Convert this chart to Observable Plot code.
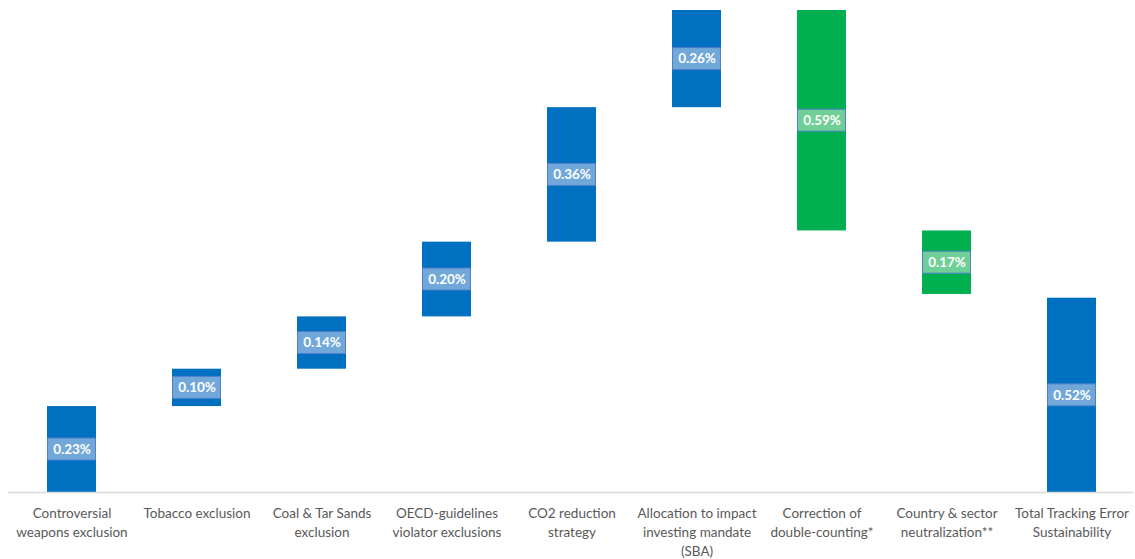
<!DOCTYPE html>
<html>
<head>
<meta charset="utf-8">
<script src="https://cdn.jsdelivr.net/npm/d3@7"></script>
<script src="https://cdn.jsdelivr.net/npm/@observablehq/plot@0.6"></script>
<style>
  html, body { margin: 0; padding: 0; background: #fff; }
  #chart svg { display: block; }
</style>
</head>
<body>
<div id="chart"></div>
<script>
const categories = [
  "Controversial\nweapons exclusion",
  "Tobacco exclusion",
  "Coal & Tar Sands\nexclusion",
  "OECD-guidelines\nviolator exclusions",
  "CO2 reduction\nstrategy",
  "Allocation to impact\ninvesting mandate\n(SBA)",
  "Correction of\ndouble-counting*",
  "Country & sector\nneutralization**",
  "Total Tracking Error\nSustainability"
];
const values = [0.23, 0.10, 0.14, 0.20, 0.36, 0.26, -0.59, -0.17, 0.52];
const kinds = ["up", "up", "up", "up", "up", "up", "down", "down", "total"];
const labels = ["0.23%", "0.10%", "0.14%", "0.20%", "0.36%", "0.26%", "0.59%", "0.17%", "0.52%"];

// Build waterfall table
let run = 0;
const data = categories.map((c, i) => {
  let y1, y2;
  if (kinds[i] === "total") { y1 = 0; y2 = values[i]; run = values[i]; }
  else { y1 = run; y2 = run + values[i]; run = y2; }
  return { cat: c, y1, y2, mid: (y1 + y2) / 2, kind: kinds[i], label: labels[i] };
});

const W = 1135, H = 559, mT = 10, mB = 67;
const yMax = d3.max(data, d => Math.max(d.y1, d.y2));
const pxPerUnit = (H - mT - mB) / yMax;
const half = 11 / pxPerUnit;

const fillOf = k => k === "down" ? "#00b050" : "#0070c0";
const boxOf = k => k === "down" ? "#6fcf96" : "#71a8d9";

const chart = Plot.plot({
  width: W,
  height: H,
  marginTop: mT,
  marginBottom: mB,
  marginLeft: 8,
  marginRight: 1,
  style: { fontFamily: "Lato, 'Open Sans', sans-serif", background: "#fff" },
  x: { domain: categories, paddingInner: 0.61, paddingOuter: 0.305, label: null },
  y: { domain: [0, yMax], axis: null },
  marks: [
    Plot.barY(data, { x: "cat", y1: "y1", y2: "y2", fill: d => fillOf(d.kind) }),
    Plot.ruleY([0], { stroke: "#d9d9d9", strokeWidth: 1.5 }),
    Plot.barY(data, {
      x: "cat",
      y1: d => d.mid - half,
      y2: d => d.mid + half,
      fill: d => boxOf(d.kind),
      stroke: "#4f7fc8",
      strokeWidth: 1,
      insetLeft: 0.5, insetRight: 0.5
    }),
    Plot.text(data, {
      x: "cat", y: "mid", text: "label",
      fill: "#ffffff", fontSize: 13.5, fontWeight: "bold"
    }),
    Plot.axisX({
      tickSize: 0, tickPadding: 12, fontSize: 13.5, lineHeight: 1.4,
      fill: "#595959", label: null
    })
  ]
});
document.getElementById("chart").appendChild(chart);
</script>
</body>
</html>
